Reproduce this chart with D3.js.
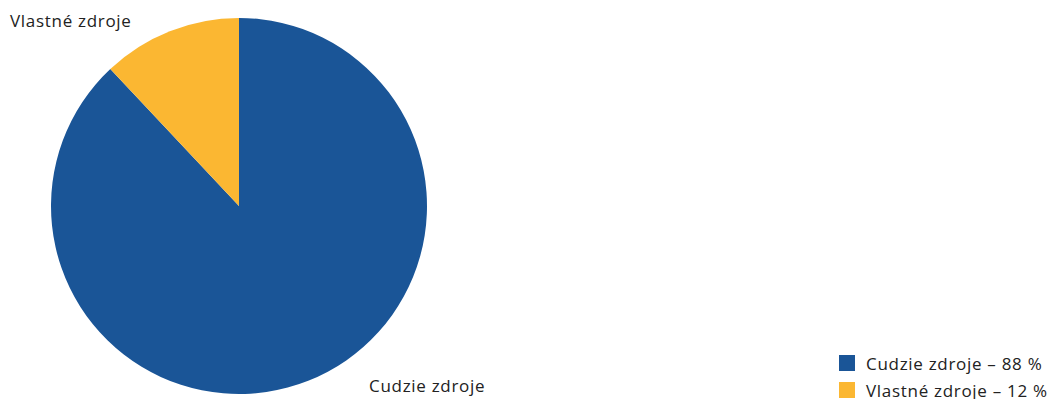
<!DOCTYPE html>
<html><head><meta charset="utf-8">
<script src="https://cdn.jsdelivr.net/npm/d3@7"></script>
<style>body{margin:0;background:#fff}svg{display:block}text{font-family:"Open Sans",sans-serif;fill:#222;letter-spacing:0.7px}</style>
</head><body><svg id="c" width="1053" height="399"></svg>
<script>
const categories = ["Cudzie zdroje", "Vlastné zdroje"];
const values = [88, 12];
const legendLabels = ["Cudzie zdroje – 88 %", "Vlastné zdroje – 12 %"];
const colors = ["#1a5597", "#fbb732"];

const svg = d3.select("#c");
const cx = 239, cy = 206, r = 188;
const pie = d3.pie().sort(null).value(d => d)(values);
const arc = d3.arc().innerRadius(0).outerRadius(r);
const g = svg.append("g").attr("transform", `translate(${cx},${cy})`);
g.selectAll("path").data(pie).join("path").attr("d", arc).attr("fill", (d, i) => colors[i]);

// slice labels
svg.append("text").attr("x", 369).attr("y", 392).attr("font-size", 17).text(categories[0]);
svg.append("text").attr("x", 10).attr("y", 27).attr("font-size", 17).text(categories[1]);

// legend
const lg = svg.append("g").attr("transform", "translate(839,355)");
legendLabels.forEach((t, i) => {
  lg.append("rect").attr("x", 0).attr("y", i * 27).attr("width", 16).attr("height", 16).attr("fill", colors[i]);
  lg.append("text").attr("x", 27).attr("y", i * 27 + 15).attr("font-size", 17).text(t);
});
</script></body></html>
